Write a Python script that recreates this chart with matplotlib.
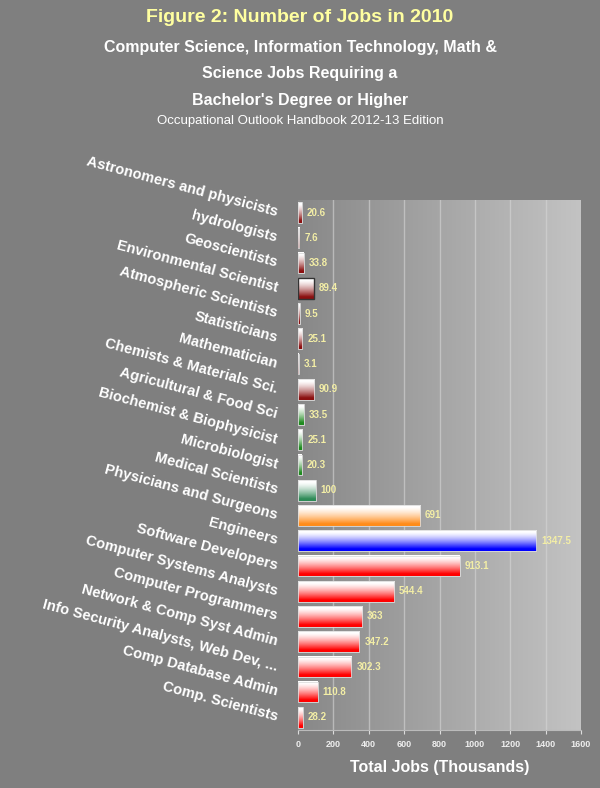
import matplotlib
matplotlib.use("Agg")
import matplotlib.pyplot as plt
import numpy as np
from matplotlib.colors import to_rgb

plt.rcParams["font.family"] = ["Liberation Sans", "DejaVu Sans"]

categories = [
    "Astronomers and physicists", "hydrologists", "Geoscientists",
    "Environmental Scientist", "Atmospheric Scientists", "Statisticians",
    "Mathematician", "Chemists & Materials Sci.", "Agricultural & Food Sci",
    "Biochemist & Biophysicist", "Microbiologist", "Medical Scientists",
    "Physicians and Surgeons", "Engineers", "Software Developers",
    "Computer Systems Analysts", "Computer Programmers",
    "Network & Comp Syst Admin", "Info Security Analysts, Web Dev, ...",
    "Comp Database Admin", "Comp. Scientists",
]
jobs = [20.6, 7.6, 33.8, 89.4, 9.5, 25.1, 3.1, 90.9, 33.5, 25.1, 20.3, 100,
        691, 1347.5, 913.1, 544.4, 363, 347.2, 302.3, 110.8, 28.2]
value_labels = ["20.6", "7.6", "33.8", "89.4", "9.5", "25.1", "3.1", "90.9",
                "33.5", "25.1", "20.3", "100", "691", "1347.5", "913.1",
                "544.4", "363", "347.2", "302.3", "110.8", "28.2"]
bar_colors = ["#8b1010"] * 8 + ["#1f8a1f"] * 3 + ["#2e8b57", "#ff8c1a", "#0000ff"] + ["#ff0000"] * 7
xticks = [0, 200, 400, 600, 800, 1000, 1200, 1400, 1600]

BG = "#7f7f7f"
fig = plt.figure(figsize=(6, 7.88), dpi=100, facecolor=BG)
ax = fig.add_axes([0.4967, 0.0736, 0.4716, 0.6726])
ax.set_facecolor(BG)

n = len(categories)
ypos = np.arange(n)[::-1]
h = 0.82

# background gradient of the plot area
grad = np.linspace(0, 1, 256)[None, :]
c0, c1 = np.array(to_rgb("#888888")), np.array(to_rgb("#c3c3c3"))
bg = c0 + (c1 - c0) * grad[..., None]
ax.imshow(bg, extent=[0, 1600, -0.5, n - 0.5], aspect="auto", zorder=0)
for t in xticks[1:-1]:
    ax.axvline(t, color="#d6d6d6", lw=1.0, alpha=0.6, zorder=1)

# gradient bars: white on top, colour at bottom
t = np.linspace(0, 1, 64)
s = (np.clip((t - 0.08) / 0.82, 0, 1) ** 1.4)[:, None]
for y, v, col, lab in zip(ypos, jobs, bar_colors, value_labels):
    rgb = np.array(to_rgb(col))
    img = (1 - s) * np.ones(3) + s * rgb
    ax.imshow(img[:, None, :], extent=[0, v, y - h / 2, y + h / 2],
              aspect="auto", origin="upper", zorder=2)
    ec = "#333333" if lab == "89.4" else "#dddddd"
    ax.add_patch(plt.Rectangle((0, y - h / 2), v, h, fill=False, ec=ec,
                               lw=1.0 if lab == "89.4" else 0.6, zorder=3))
    ax.annotate(lab, (v, y), xytext=(3.5, 0), textcoords="offset points",
                color="#f3eea6", fontsize=7, fontweight="bold",
                va="center", ha="left", zorder=4)

ax.set_xlim(0, 1600)
ax.set_ylim(-0.5, n - 0.5)
ax.set_xticks(xticks)
ax.set_xticklabels([str(x) for x in xticks], fontsize=6.5, fontweight="bold", color="#eeeeee")
ax.set_yticks(ypos)
ax.set_yticklabels(categories, rotation=-15, ha="right", va="center",
                   rotation_mode="anchor", fontsize=10.5, fontweight="bold", color="white")
ax.tick_params(axis="y", length=0, pad=15)
ax.tick_params(axis="x", length=3, color="#dddddd", pad=4)
for sp in ["top", "right", "left"]:
    ax.spines[sp].set_visible(False)
ax.spines["bottom"].set_color("#bbbbbb")
ax.set_xlabel("Total Jobs (Thousands)", fontsize=11.5, fontweight="bold",
              color="white", labelpad=8)

fig.text(0.5, 0.978, "Figure 2: Number of Jobs in 2010", ha="center", va="center",
         fontsize=14, fontweight="bold", color="#ffffa0")
fig.text(0.5, 0.940, "Computer Science, Information Technology, Math &", ha="center",
         va="center", fontsize=11.5, fontweight="bold", color="white")
fig.text(0.5, 0.907, "Science Jobs Requiring a", ha="center", va="center",
         fontsize=11.5, fontweight="bold", color="white")
fig.text(0.5, 0.873, "Bachelor's Degree or Higher", ha="center", va="center",
         fontsize=11.5, fontweight="bold", color="white")
fig.text(0.5, 0.846, "Occupational Outlook Handbook 2012-13 Edition", ha="center",
         va="center", fontsize=9.5, color="white")

fig.savefig("out.png", dpi=100, facecolor=BG)
